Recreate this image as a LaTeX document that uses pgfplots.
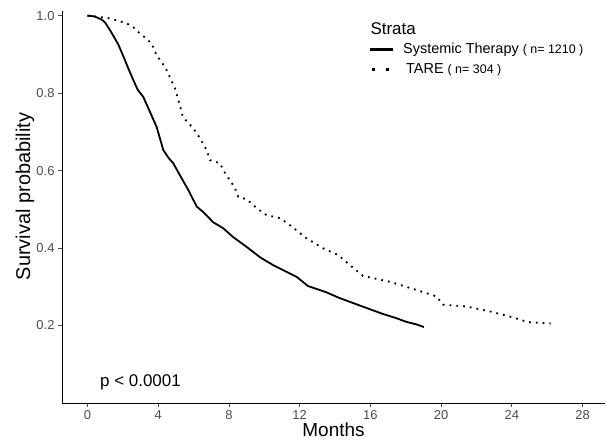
\documentclass[border=0pt]{standalone}
\usepackage{pgfplots}
\pgfplotsset{compat=1.18}
\usepackage{fontspec}
\setmainfont{Liberation Sans}
\definecolor{tickgray}{HTML}{4D4D4D}

\begin{document}
\begin{tikzpicture}
\useasboundingbox (0bp,0bp) rectangle (607bp,444bp);
\begin{axis}[
  at={(62bp,41bp)}, anchor=south west,
  scale only axis, width=543bp, height=392bp,
  xmin=-1.44, xmax=29.27, ymin=0, ymax=1.012,
  axis x line*=bottom, axis y line*=left,
  axis line style={black, line width=0.8bp, -},
  xtick={0,4,...,28}, ytick={0.2,0.4,0.6,0.8,1.0},
  yticklabel style={/pgf/number format/.cd, fixed, fixed zerofill, precision=1},
  /pgf/number format/assume math mode=true,
  tick style={tickgray, line width=0.8bp},
  major tick length=4bp, tick align=outside,
  tick label style={font=\fontsize{13}{15}\selectfont, text=tickgray},
  xlabel={Months}, ylabel={Survival probability},
  xlabel style={font=\fontsize{19}{22}\selectfont, at={(axis description cs:0.5,-0.0867)}, anchor=base},
  ylabel style={font=\fontsize{20}{23}\selectfont, at={(axis description cs:-0.0681,0.527)}, anchor=center},
  legend style={at={(axis description cs:0.5635,0.923)}, anchor=north west,
    draw=none, fill=none, inner sep=0pt, row sep=4bp,
    font=\fontsize{14.5}{16}\selectfont,
    cells={anchor=west},
    /tikz/every odd column/.append style={column sep=7bp}},
  legend image code/.code={\draw[#1, line width=3bp, dash pattern=] (0bp,0bp) -- (23bp,0bp);},
]
% Systemic Therapy
\addplot[black, line width=1.8bp] coordinates {
  (0,1.0)(0.4,0.998)(0.8,0.99)(1.0,0.982)(1.27,0.963)(1.5,0.945)(1.75,0.925)
  (2.03,0.895)(2.3,0.865)(2.59,0.834)(2.85,0.808)(3.16,0.79)(3.5,0.755)
  (3.91,0.713)(4.29,0.653)(4.6,0.632)(4.85,0.619)(5.23,0.588)(5.7,0.55)
  (6.18,0.507)(6.55,0.493)(7.1,0.467)(7.68,0.451)(8.25,0.428)(9.0,0.403)
  (9.8,0.375)(10.5,0.356)(11.2,0.34)(11.85,0.325)(12.47,0.302)(13.5,0.286)
  (14.2,0.272)(14.85,0.261)(15.8,0.245)(16.7,0.23)(17.4,0.22)(18.07,0.209)
  (18.6,0.203)(19.03,0.196)
};
\addlegendentry{Systemic Therapy {\fontsize{12.5}{14}\selectfont( n= 1210 )}}

% TARE
\addplot[black, line width=1.8bp, dash pattern=on 1.8bp off 5bp,
  legend image code/.code={\draw[black, line width=3bp, dash pattern=on 3bp off 11bp] (2.5bp,0bp) -- (23bp,0bp);}]
coordinates {
  (0,1.0)(0.6,0.997)(1.27,0.993)(1.8,0.986)(2.22,0.98)(2.6,0.97)(2.97,0.954)
  (3.3,0.942)(3.63,0.928)(3.91,0.898)(4.2,0.88)(4.48,0.859)(4.95,0.812)
  (5.23,0.768)(5.4,0.738)(5.97,0.71)(6.36,0.684)(6.74,0.653)(6.93,0.627)
  (7.5,0.619)(7.68,0.601)(8.06,0.575)(8.34,0.555)(8.53,0.532)(9.0,0.526)
  (9.57,0.503)(10.13,0.485)(10.9,0.477)(11.6,0.454)(12.3,0.428)(12.58,0.42)
  (13.3,0.40)(14.17,0.382)(14.85,0.356)(15.58,0.328)(17.1,0.313)(18.6,0.292)
  (19.75,0.275)(20.1,0.254)(21.45,0.249)(22.8,0.236)(23.9,0.223)(24.9,0.209)
  (26.2,0.205)
};
\addlegendentry{\hspace{3bp}TARE {\fontsize{12.5}{14}\selectfont( n= 304 )}}

\node[anchor=base west, font=\fontsize{17}{20}\selectfont] at (axis description cs:0.5617,0.9413) {Strata};
\node[anchor=base west, font=\fontsize{17}{20}\selectfont] at (axis cs:0.52,0.0426) {p < 0.0001};
\end{axis}
\end{tikzpicture}
\end{document}
